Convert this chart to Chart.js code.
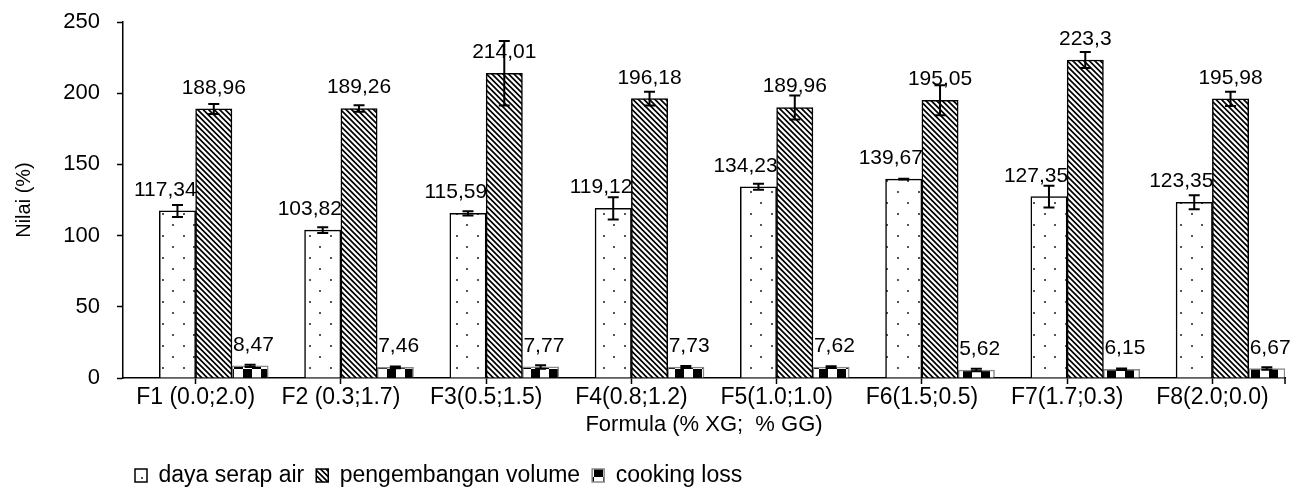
<!DOCTYPE html>
<html>
<head>
<meta charset="utf-8">
<script src="https://cdn.jsdelivr.net/npm/chart.js@4.4.1/dist/chart.umd.min.js"></script>
<style>
  html, body { margin: 0; padding: 0; background: #fff; }
  #wrap { width: 1295px; height: 487px; }
</style>
</head>
<body>
<div id="wrap"><canvas id="chart"></canvas></div>
<script>
// data
const formulas = ['F1 (0.0;2.0)', 'F2 (0.3;1.7)', 'F3(0.5;1.5)', 'F4(0.8;1.2)', 'F5(1.0;1.0)', 'F6(1.5;0.5)', 'F7(1.7;0.3)', 'F8(2.0;0.0)'];
const dayaSerapAir = [117.34, 103.82, 115.59, 119.12, 134.23, 139.67, 127.35, 123.35];
const dayaSerapAirErr = [4.2, 2.0, 1.5, 7.8, 2.1, 0.3, 7.7, 4.9];
const pengembanganVolume = [188.96, 189.26, 214.01, 196.18, 189.96, 195.05, 223.3, 195.98];
const pengembanganVolumeErr = [3.5, 2.3, 22.6, 4.9, 8.5, 10.5, 5.6, 5.0];
const cookingLoss = [8.47, 7.46, 7.77, 7.73, 7.62, 5.62, 6.15, 6.67];
const cookingLossErr = [0.8, 0.6, 1.2, 0.7, 0.6, 0.8, 0.6, 0.9];
const yTicks = [0, 50, 100, 150, 200, 250];

const FONT = '"Liberation Sans", Arial, sans-serif';

function makePattern(w, h, draw) {
  const c = document.createElement('canvas');
  c.width = w;
  c.height = h;
  const p = c.getContext('2d');
  p.fillStyle = '#fff';
  p.fillRect(0, 0, w, h);
  draw(p, w, h);
  return document.getElementById('chart').getContext('2d').createPattern(c, 'repeat');
}

// sparse dots
const dots = makePattern(21, 22, (p) => {
  p.fillStyle = '#555';
  p.fillRect(4, 4, 2, 2);
  p.fillRect(15, 15, 2, 2);
});

// "\\\" hatching
const hatch = makePattern(11, 11, (p) => {
  p.strokeStyle = '#000';
  p.lineWidth = 1.7;
  p.beginPath();
  [-11, -5.5, 0, 5.5, 11].forEach((c) => {
    p.moveTo(-1, -1 + c); p.lineTo(12, 12 + c);
  });
  p.stroke();
});

// checker blocks
const checker = makePattern(18, 18, (p) => {
  p.fillStyle = '#000';
  p.fillRect(0, 0, 9, 9);
  p.fillRect(9, 9, 9, 9);
});

const errorBars = {
  id: 'errorBars',
  afterDatasetsDraw(chart) {
    const { ctx } = chart;
    const y = chart.scales.y;
    ctx.save();
    ctx.strokeStyle = '#000';
    ctx.lineWidth = 2;
    chart.data.datasets.forEach((ds, di) => {
      if (!ds.err) return;
      chart.getDatasetMeta(di).data.forEach((bar, i) => {
        const v = ds.data[i];
        const e = ds.err[i];
        const top = y.getPixelForValue(v + e);
        const bot = y.getPixelForValue(v - e);
        ctx.beginPath();
        ctx.moveTo(bar.x, top); ctx.lineTo(bar.x, bot);
        ctx.moveTo(bar.x - 5.5, top); ctx.lineTo(bar.x + 5.5, top);
        ctx.moveTo(bar.x - 5.5, bot); ctx.lineTo(bar.x + 5.5, bot);
        ctx.stroke();
      });
    });
    ctx.restore();
  }
};

const valueLabels = {
  id: 'valueLabels',
  afterDatasetsDraw(chart) {
    const { ctx } = chart;
    ctx.save();
    ctx.fillStyle = '#000';
    ctx.font = '21px ' + FONT;
    ctx.textBaseline = 'alphabetic';
    chart.data.datasets.forEach((ds, di) => {
      if (!ds.labelAlign) return;
      chart.getDatasetMeta(di).data.forEach((bar, i) => {
        const txt = String(ds.data[i]).replace('.', ',');
        let x = bar.x;
        if (ds.labelAlign === 'right') { ctx.textAlign = 'right'; x = bar.x + bar.width / 2 + 1; }
        else if (ds.labelAlign === 'left') { ctx.textAlign = 'left'; x = bar.x - bar.width / 2 + 1; }
        else ctx.textAlign = 'center';
        ctx.fillText(txt, x, bar.y - 15);
      });
    });
    // closing tick at the right end of the category axis
    const a = chart.chartArea;
    ctx.strokeStyle = '#000';
    ctx.lineWidth = 1.5;
    ctx.beginPath();
    ctx.moveTo(a.right, a.bottom); ctx.lineTo(a.right, a.bottom + 6);
    ctx.stroke();
    ctx.restore();
  }
};

new Chart(document.getElementById('chart'), {
  type: 'bar',
  data: {
    labels: formulas,
    datasets: [
      // empty slot so each group sits the way the original does
      { label: '', data: formulas.map(() => null) },
      { label: 'daya serap air', data: dayaSerapAir, err: dayaSerapAirErr, labelAlign: 'right',
        backgroundColor: dots, borderColor: '#000', borderWidth: 1.5 },
      { label: 'pengembangan volume', data: pengembanganVolume, err: pengembanganVolumeErr, labelAlign: 'center',
        backgroundColor: hatch, borderColor: '#000', borderWidth: 1.5 },
      { label: 'cooking loss', data: cookingLoss, err: cookingLossErr, labelAlign: 'left',
        backgroundColor: checker, borderColor: '#888', borderWidth: 1.5 }
    ]
  },
  options: {
    responsive: true,
    maintainAspectRatio: false,
    animation: false,
    datasets: { bar: { categoryPercentage: 1, barPercentage: 1 } },
    layout: { padding: { top: 22, right: 10, left: 0, bottom: 0 } },
    scales: {
      x: {
        border: { display: true, color: '#000', width: 1.5 },
        grid: { display: true, drawOnChartArea: false, offset: false, tickLength: 6, tickColor: '#000', tickWidth: 1.5 },
        ticks: { color: '#000', font: { family: FONT, size: 23 }, padding: 0, maxRotation: 0, autoSkip: false },
        title: { display: true, text: 'Formula (% XG;  % GG)', color: '#000', font: { family: FONT, size: 22 }, padding: { top: 0, bottom: 14 } }
      },
      y: {
        min: 0,
        max: 250,
        afterBuildTicks: (s) => { s.ticks = yTicks.map((v) => ({ value: v })); },
        afterFit: (s) => {
          s.width = 123;
          // keep the big label gap from pushing the plot down
          s.paddingTop = 12;
          s.paddingBottom = 12;
        },
        border: { display: true, color: '#000', width: 1.5 },
        grid: { display: true, drawOnChartArea: false, tickLength: 6, tickColor: '#000', tickWidth: 1.5 },
        ticks: { color: '#000', font: { family: FONT, size: 22 }, padding: 17 },
        title: { display: true, text: 'Nilai (%)', color: '#000', font: { family: FONT, size: 20 }, padding: { top: 12, bottom: 0 } }
      }
    },
    plugins: {
      legend: {
        position: 'bottom',
        align: 'start',
        fullSize: false,
        maxHeight: 35,
        labels: {
          color: '#000',
          font: { family: FONT, size: 23 },
          boxWidth: 12,
          boxHeight: 13,
          padding: 12,
          filter: (item) => item.text !== ''
        }
      },
      tooltip: { enabled: false }
    }
  },
  plugins: [errorBars, valueLabels]
});
</script>
</body>
</html>
